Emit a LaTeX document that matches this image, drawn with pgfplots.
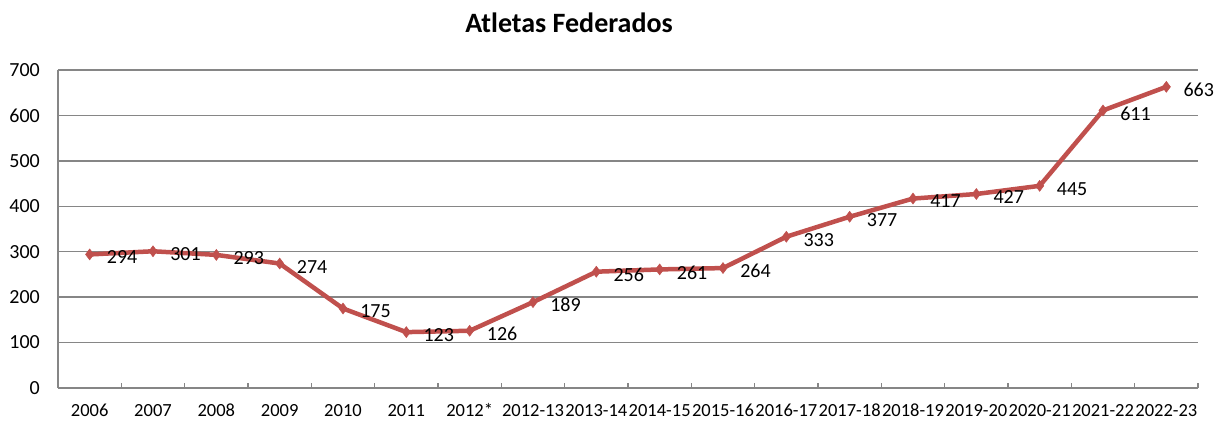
\documentclass[border=0pt]{standalone}
\usepackage{fontspec}
\setmainfont{Carlito}
\usepackage{pgfplots}
\pgfplotsset{compat=1.18}
\definecolor{linered}{RGB}{192,80,77}
\definecolor{gridgray}{RGB}{134,134,134}
\begin{document}
\begin{tikzpicture}[x=1pt,y=1pt]
\useasboundingbox (-58,-33) rectangle (1158,388);
\node[anchor=base, font=\bfseries\fontsize{28}{32}\selectfont] at (511,355) {Atletas Federados};
\begin{axis}[at={(0,0)}, anchor=south west, scale only axis,
  width=1140pt, height=318pt,
  xmin=-0.5, xmax=17.5, ymin=0, ymax=700,
  clip=false,
  axis x line*=bottom, axis y line*=left,
  axis line style={gridgray, line width=1.3pt},
  ytick={0,100,...,700},
  ymajorgrids, grid style={gridgray, line width=1.3pt},
  xtick={0,...,17},
  xticklabels={2006,2007,2008,2009,2010,2011,2012*,2012-13,2013-14,2014-15,2015-16,2016-17,2017-18,2018-19,2019-20,2020-21,2021-22,2022-23},
  major tick length=0pt,
  extra x ticks={0.5,1.5,...,17.5},
  extra x tick labels={},
  extra x tick style={major tick length=5pt, tick align=inside, tick style={gridgray, line width=1.3pt}, grid=none},
  /pgf/number format/assume math mode=true,
  yticklabel style={font=\fontsize{20}{24}\selectfont, inner sep=0pt, xshift=-18pt, text=black},
  xticklabel style={font=\fontsize{18.5}{22}\selectfont, inner sep=0pt, anchor=base, yshift=-28pt, text=black},
  nodes near coords,
  every node near coord/.append style={anchor=west, inner sep=0pt, xshift=17pt, yshift=-3pt, font=\fontsize{20}{24}\selectfont, text=black},
]
\addplot[linered, line width=4.5pt, mark=diamond*, mark size=5.5pt, mark options={line width=0.5pt, fill=linered}] coordinates {
(0,294) (1,301) (2,293) (3,274) (4,175) (5,123) (6,126) (7,189) (8,256)
(9,261) (10,264) (11,333) (12,377) (13,417) (14,427) (15,445) (16,611) (17,663)
};
\end{axis}
\end{tikzpicture}
\end{document}
